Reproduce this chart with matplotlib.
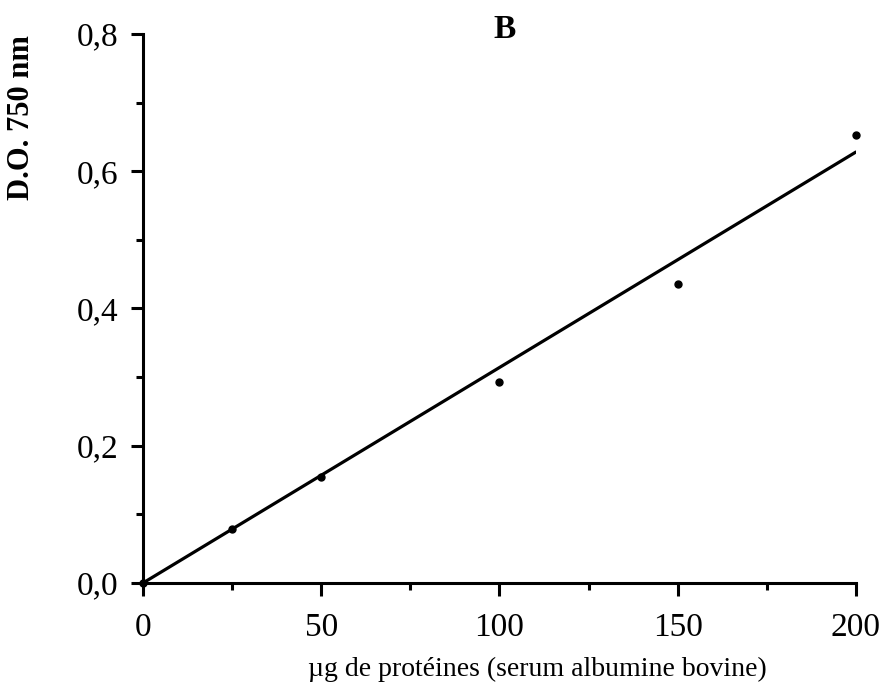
import numpy as np
import matplotlib.pyplot as plt
from matplotlib.ticker import MultipleLocator, FuncFormatter

# donnees
proteines = [0, 25, 50, 100, 150, 200]
do750 = [0.0, 0.079, 0.155, 0.293, 0.436, 0.653]
droite_x = [0, 200]
droite_y = [0.0, 0.628]

plt.rcParams['font.family'] = ['Liberation Serif', 'DejaVu Serif']

fig = plt.figure(figsize=(8.85, 6.87), dpi=100)
ax = fig.add_axes([0.1616, 0.1514, 0.8055, 0.7991])

ax.plot(droite_x, droite_y, color='black', lw=2.3, solid_capstyle='round')
ax.plot(proteines, do750, 'o', color='black', ms=5, clip_on=False)

ax.set_xlim(0, 200)
ax.set_ylim(0, 0.8)
for s in ['top', 'right']:
    ax.spines[s].set_visible(False)
for s in ['left', 'bottom']:
    ax.spines[s].set_linewidth(2.2)

ax.xaxis.set_major_locator(MultipleLocator(50))
ax.xaxis.set_minor_locator(MultipleLocator(25))
ax.yaxis.set_major_locator(MultipleLocator(0.2))
ax.yaxis.set_minor_locator(MultipleLocator(0.1))
ax.yaxis.set_major_formatter(FuncFormatter(lambda v, p: ('%.1f' % v).replace('.', ',')))
ax.tick_params(which='major', length=9, width=2.2, labelsize=24)
ax.tick_params(axis='x', which='major', pad=12)
ax.tick_params(axis='y', which='major', pad=9)
ax.tick_params(which='minor', length=5, width=2.2)

# titres des axes
fig.text(537 / 885, 1 - 669 / 687, 'µg de protéines (serum albumine bovine)', fontsize=20,
         ha='center', va='center')
fig.text(22 / 885, 1 - 118 / 687, 'D.O. 750 nm', fontsize=22, fontweight='bold',
         rotation=90, ha='center', va='center')
fig.text(505 / 885, 1 - 30 / 687, 'B', fontsize=24, fontweight='bold',
         ha='center', va='center')

plt.savefig('out.png', dpi=100)
